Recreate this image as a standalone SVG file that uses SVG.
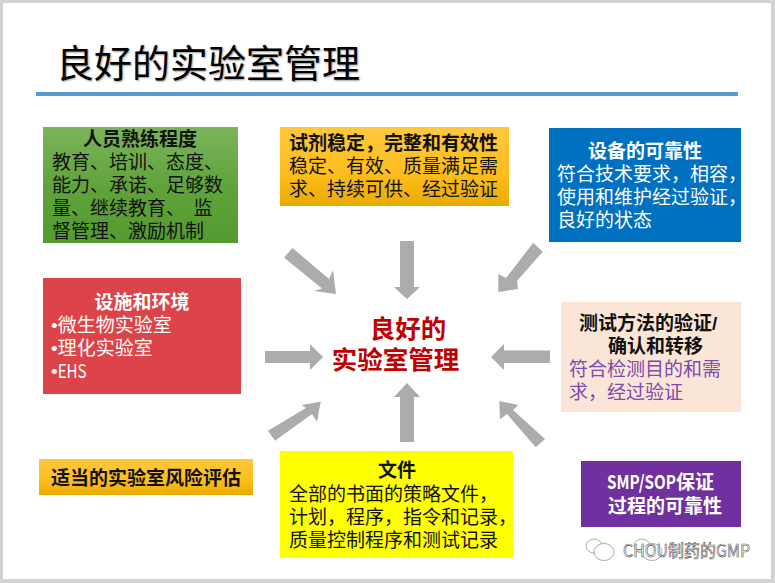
<svg xmlns="http://www.w3.org/2000/svg" width="775" height="583" viewBox="0 0 775 583">
<style>
text{font-family:"Noto Sans CJK SC","Liberation Sans",sans-serif;font-size:19px;fill:#111;white-space:pre}
.b{font-weight:700}
.m{text-anchor:middle}
.w{fill:#fff}
.ttl{font-size:38px;fill:#000;text-shadow:1px 1px 2px #999}
.ctr{font-size:25.500px;font-weight:700;fill:#c00000}
.p{fill:#7a4bb0}
.arr{fill:#adabac}
.wm{font-size:17px;fill:#fff;stroke:#555;stroke-width:.6}
.ic{fill:#fff;stroke:#888;stroke-width:.7}
.bu{font-family:"Liberation Sans",sans-serif}
</style>
<defs>
<linearGradient id="g1" x1="0" y1="0" x2="0" y2="1"><stop offset="0" stop-color="#7cb45c"/><stop offset=".5" stop-color="#60a33c"/><stop offset="1" stop-color="#559a31"/></linearGradient>
<linearGradient id="g2" x1="0" y1="0" x2="0" y2="1"><stop offset="0" stop-color="#ffc83c"/><stop offset=".6" stop-color="#fdbd1c"/><stop offset="1" stop-color="#e7ab00"/></linearGradient>
</defs>
<rect id="background" width="775" height="583" fill="#d2d2d2"/>
<rect id="slide" x="3" y="3" width="768" height="576" fill="#fff"/>
<g id="title">
<text class="ttl" x="56" y="77">良好的实验室管理</text>
<rect x="36" y="92" width="702" height="4" fill="#5b9bd5"/>
</g>
<g id="connectors">
<polygon class="arr" points="292.500,248 329,279 333,270 336,294 314,291 322,288.500 284,257.500"/>
<polygon class="arr" points="400,241 414,241 414,287 420,287 407,299 394,287 400,287"/>
<polygon class="arr" points="533.300,242.700 542.700,251.700 517,281 518,289 498.300,292 498.300,274 506,278"/>
<polygon class="arr" points="265,351 310,351 310,344 323,357 310,370 310,363 265,363"/>
<polygon class="arr" points="550,350.500 504,350.500 504,344 491,357 504,370 504,363 550,363"/>
<polygon class="arr" points="268,430.700 275,440.700 312,414 317,421.700 320.700,401.700 301.700,405 306,408"/>
<polygon class="arr" points="400,442 414,442 414,397 420,397 407,383 394,397 400,397"/>
<polygon class="arr" points="545,439 535.700,447.300 507,414 500,419.300 499.300,401 518.300,405 513,410"/>
</g>
<g id="node-personnel">
<rect x="43" y="127" width="195" height="116" fill="url(#g1)"/>
<text class="b m" x="140" y="146">人员熟练程度</text>
<text x="52" y="169">教育、培训、态度、</text>
<text x="52" y="192">能力、承诺、足够数</text>
<text x="52" y="215">量、继续教育、  监</text>
<text x="52" y="238">督管理、激励机制</text>
</g>
<g id="node-reagent">
<rect x="280" y="127" width="229" height="79" fill="url(#g2)"/>
<text class="b" x="289" y="150">试剂稳定，完整和有效性</text>
<text x="289" y="173">稳定、有效、质量满足需</text>
<text x="289" y="196">求、持续可供、经过验证</text>
</g>
<g id="node-equipment">
<rect x="549" y="128" width="192" height="114" fill="#0070c0"/>
<text class="b m w" x="645" y="158">设备的可靠性</text>
<text class="w" x="557" y="181">符合技术要求，相容，</text>
<text class="w" x="557" y="204">使用和维护经过验证，</text>
<text class="w" x="557" y="227">良好的状态</text>
</g>
<g id="node-facility">
<rect x="43" y="278" width="198" height="116" fill="#dc4449"/>
<text class="b m w" x="142" y="309">设施和环境</text>
<text class="w" x="51" y="332"><tspan class="bu">•</tspan>微生物实验室</text>
<text class="w" x="51" y="355"><tspan class="bu">•</tspan>理化实验室</text>
<text class="w" x="51" y="378"><tspan class="bu">•</tspan><tspan textLength="29" lengthAdjust="spacingAndGlyphs">EHS</tspan></text>
</g>
<g id="node-center">
<text class="ctr m" x="408" y="338">良好的</text>
<text class="ctr m" x="395.500" y="369">实验室管理</text>
</g>
<g id="node-method">
<rect x="561" y="302" width="180" height="110" fill="#fbe5d6"/>
<text class="b" x="579" y="330">测试方法的验证<tspan class="bu">/</tspan></text>
<text class="b" x="608" y="353">确认和转移</text>
<text class="p" x="569" y="376">符合检测目的和需</text>
<text class="p" x="569" y="399">求，经过验证</text>
</g>
<g id="node-risk">
<rect x="39" y="459" width="214" height="36" fill="url(#g2)"/>
<text class="b m" x="146" y="485">适当的实验室风险评估</text>
</g>
<g id="node-documents">
<rect x="280" y="451" width="233" height="107" fill="#ff0"/>
<text class="b m" x="397" y="477">文件</text>
<text x="289" y="501">全部的书面的策略文件，</text>
<text x="289" y="524">计划，程序，指令和记录，</text>
<text x="289" y="547">质量控制程序和测试记录</text>
</g>
<g id="node-smp">
<rect x="581" y="461" width="160" height="66" fill="#7030a0"/>
<text class="b w" x="607" y="489"><tspan textLength="69" lengthAdjust="spacingAndGlyphs">SMP/SOP</tspan>保证</text>
<text class="b w" x="608" y="513">过程的可靠性</text>
</g>
<g id="watermark">
<ellipse class="ic" cx="594" cy="546" rx="8" ry="7"/>
<ellipse class="ic" cx="604" cy="552" rx="10" ry="8.500"/>
<ellipse class="ic" cx="642" cy="546" rx="8" ry="7"/>
<ellipse class="ic" cx="652" cy="552" rx="10" ry="8.500"/>
<text class="wm" x="623" y="557" textLength="127" lengthAdjust="spacingAndGlyphs">CHOU制药的GMP</text>
</g>
</svg>
